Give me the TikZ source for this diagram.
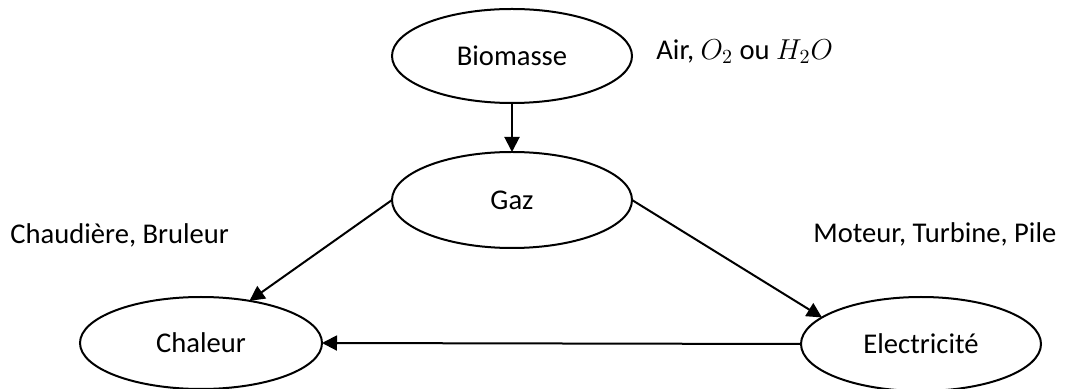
\documentclass[tikz,border=0pt]{standalone}
\usepackage{fontspec}
\setmainfont{Carlito}
\usetikzlibrary{shapes.geometric,arrows.meta}
\tikzset{
  oval/.style={draw=black, ellipse, line width=1pt, inner sep=0pt, outer sep=0pt,
    minimum width=120pt, minimum height=47pt, font=\fontsize{14.3}{17}\selectfont},
  lbl/.style={inner sep=0pt, anchor=west, font=\fontsize{14.3}{17}\selectfont},
  flow/.style={line width=1pt, -{Triangle[length=7.5pt,width=7.5pt]}}
}
\begin{document}
\begin{tikzpicture}[x=0.5pt,y=-0.5pt]
\useasboundingbox (0,0) rectangle (1076,389);
\node[oval] (bio) at (512,56) {Biomasse};
\node[oval, minimum height=48pt] (gaz) at (512,200) {Gaz};
\node[oval, minimum width=121pt, minimum height=46pt] (chal) at (201,343) {Chaleur};
\node[oval] (elec) at (921,344) {Electricité};
\node[lbl] (air) at (656,52) {Air, $O_2$ ou $H_2O$};
\node[lbl] (chb) at (10,235) {Chaudière, Bruleur};
\node[lbl] (mtp) at (813,234) {Moteur, Turbine, Pile};
\draw[flow] (bio.south) -- (gaz.north);
\draw[flow] (gaz.west) -- (chal.41);
\draw[flow] (gaz.east) -- (elec.165);
\draw[flow] (elec.west) -- (chal.east);
\end{tikzpicture}
\end{document}
